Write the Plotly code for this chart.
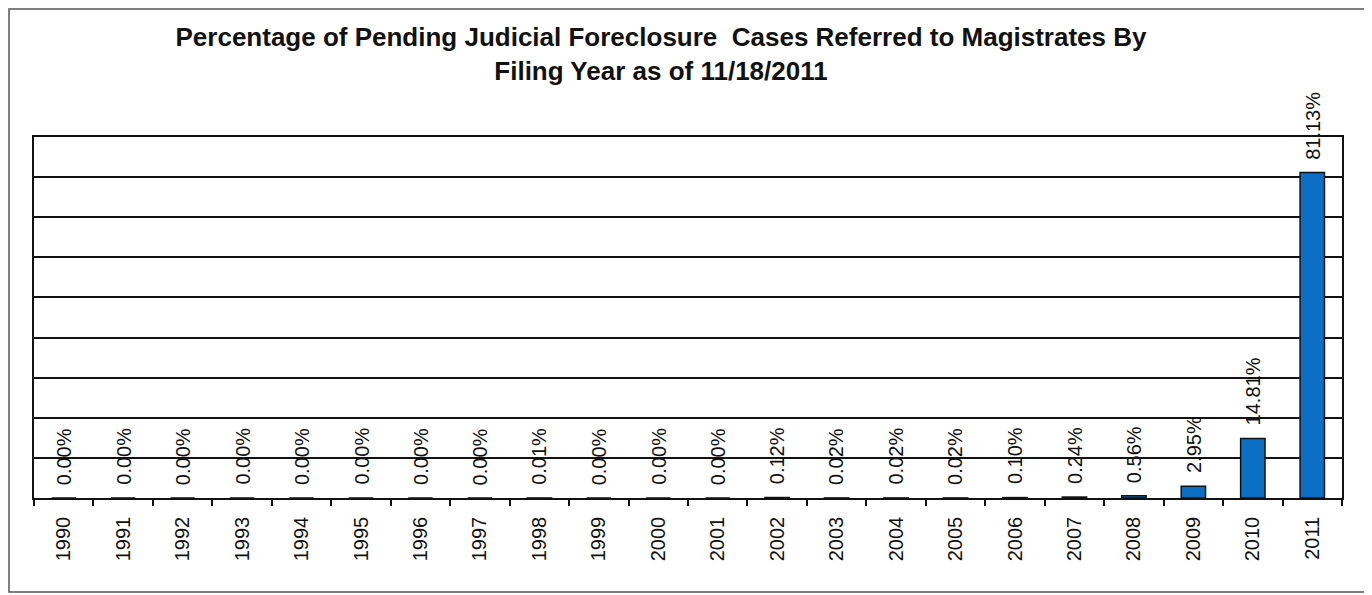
import plotly.graph_objects as go

years = [str(y) for y in range(1990, 2012)]
values = [0.00, 0.00, 0.00, 0.00, 0.00, 0.00, 0.00, 0.00, 0.01, 0.00, 0.00, 0.00,
          0.12, 0.02, 0.02, 0.02, 0.10, 0.24, 0.56, 2.95, 14.81, 81.13]
labels = ["0.00%", "0.00%", "0.00%", "0.00%", "0.00%", "0.00%", "0.00%", "0.00%",
          "0.01%", "0.00%", "0.00%", "0.00%", "0.12%", "0.02%", "0.02%", "0.02%",
          "0.10%", "0.24%", "0.56%", "2.95%", "14.81%", "81.13%"]
title_text = ("Percentage of Pending Judicial Foreclosure  Cases Referred to Magistrates By"
              "<br>Filing Year as of 11/18/2011")

FONT = "Liberation Sans, Arial, sans-serif"
OFF = 8  # page body margin
W, H = 1372 - OFF, 595 - OFF
L, R, T, B = 34 - OFF, 30, 137 - OFF, 97

fig = go.Figure()
fig.add_trace(go.Bar(
    x=years, y=values,
    marker=dict(color="#0b70c3", line=dict(color="#111111", width=1.5)),
    width=0.41,
    hoverinfo="x+y",
))

for i, (v, lab) in enumerate(zip(values, labels)):
    fig.add_annotation(
        x=i, y=v, xref="x", yref="y", text=lab, showarrow=False,
        textangle=-90, yanchor="bottom", xanchor="center", yshift=11,
        font=dict(family=FONT, size=20, color="#111111"),
    )

pw = W - L - R
ph = H - T - B
# outer frame (figure-relative pixels -> paper coords)
fx0, fx1, fy0, fy1 = 1, 1359, 1, 584
fig.add_shape(type="rect", xref="paper", yref="paper",
              x0=(fx0 - L) / pw, x1=(fx1 - L) / pw,
              y0=(H - B - fy1) / ph, y1=(H - B - fy0) / ph,
              line=dict(color="#555555", width=1.5), layer="below")

fig.update_layout(
    width=W, height=H,
    margin=dict(l=L, r=R, t=T, b=B, pad=0, autoexpand=False),
    paper_bgcolor="white", plot_bgcolor="white",
    showlegend=False,
    title=dict(text=title_text, x=(661 - OFF) / W, xref="container", xanchor="center",
               y=1 - 38 / H, yref="container", yanchor="top", automargin=False,
               font=dict(family=FONT, size=26, color="#111111", weight="bold")),
    xaxis=dict(
        type="category", categoryorder="array", categoryarray=years,
        range=[-0.5, len(years) - 0.5], automargin=False,
        tickangle=-90, ticks="outside", tickson="boundaries",
        ticklen=6, tickwidth=1.5, tickcolor="#111111",
        showline=True, linecolor="#111111", linewidth=1.5, mirror=True,
        showgrid=False, ticklabelstandoff=9,
        tickfont=dict(family=FONT, size=20, color="#111111"),
    ),
    yaxis=dict(
        range=[0, 90], dtick=10, showticklabels=False, ticks="", automargin=False,
        showgrid=True, gridcolor="#111111", gridwidth=1.5,
        showline=True, linecolor="#111111", linewidth=1.5, mirror=True,
        zeroline=False,
    ),
)

fig.write_html("out.html")
